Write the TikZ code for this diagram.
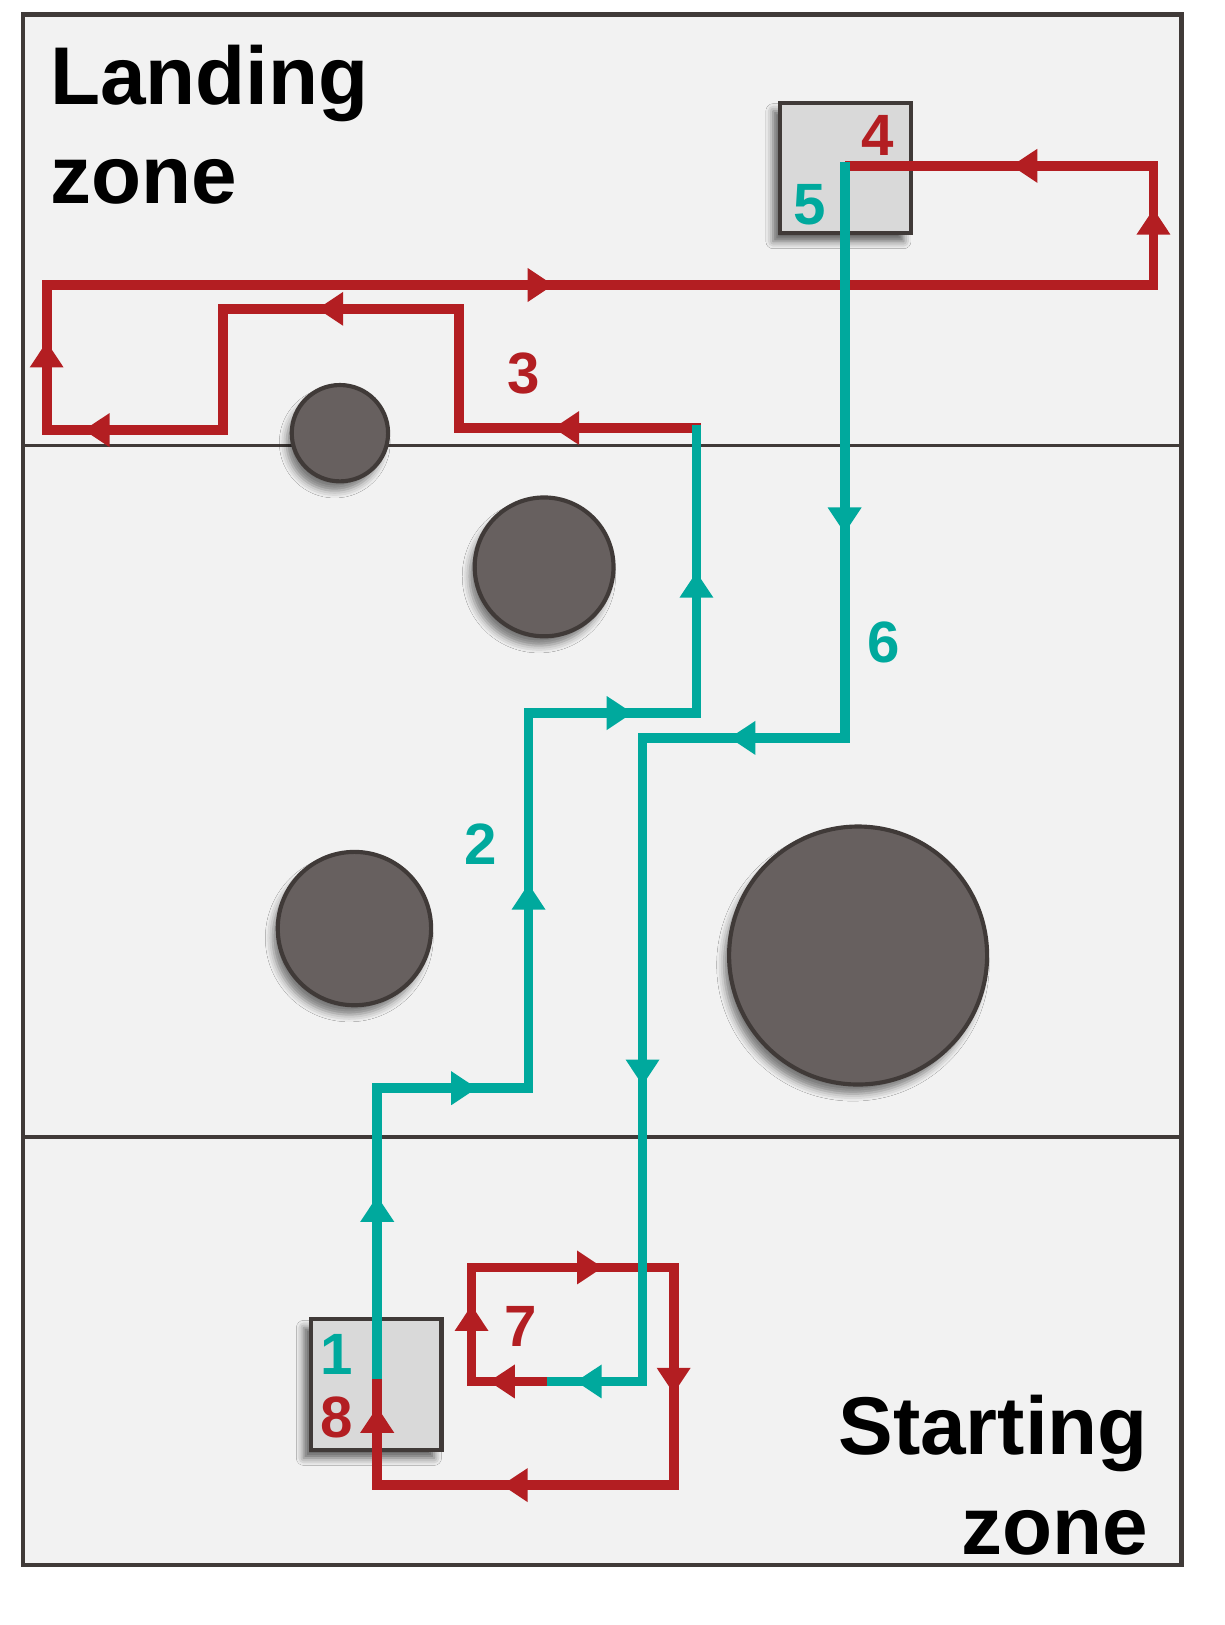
\documentclass[tikz,border=0pt]{standalone}
\usepackage{fontspec}
\setmainfont{Liberation Sans}
\usepackage{tikz}
\usetikzlibrary{positioning,arrows.meta,decorations.markings,shadows.blur}

\definecolor{framegray}{HTML}{403A38}
\definecolor{fieldgray}{HTML}{F2F2F2}
\definecolor{padgray}{HTML}{D9D9D9}
\definecolor{rockgray}{HTML}{67605F}
\definecolor{routered}{HTML}{B31E22}
\definecolor{routeteal}{HTML}{00A99D}

\begin{document}
\begin{tikzpicture}[x=0.02cm, y=-0.02cm,
    pad/.style={draw=framegray, fill=padgray, line width=0.08cm, minimum size=2.52cm, inner sep=0pt,
        blur shadow={shadow xshift=-0.14cm, shadow yshift=-0.16cm, shadow blur radius=0.14cm, shadow opacity=60}},
    rock/.style={circle, draw=framegray, fill=rockgray, line width=0.08cm, inner sep=0pt,
        blur shadow={shadow xshift=-0.1cm, shadow yshift=-0.18cm, shadow blur radius=0.14cm, shadow opacity=50}},
    redroute/.style={routered, line width=0.19cm},
    tealroute/.style={routeteal, line width=0.19cm},
    midtip/.style={postaction={decorate, decoration={markings,
        mark=at position #1 with {\arrow{Triangle[length=0.5cm, width=0.62cm]}}}}},
    zonelabel/.style={font=\bfseries\fontsize{45}{54}\selectfont, inner sep=0pt},
    steplabel/.style={font=\bfseries\fontsize{32}{38}\selectfont, inner sep=0pt}
]
    \useasboundingbox (0,0) rectangle (1182,1568);

    % campo
    \draw[framegray, line width=0.08cm, fill=fieldgray] (22,14) rectangle (1140,1510);
    \coordinate (upL) at (22,430);
    \coordinate (upR) at (1140,430);
    \coordinate (lowL) at (22,1097);
    \coordinate (lowR) at (1140,1097);
    \draw[framegray, line width=0.07cm] (upL) -- (upR);
    \draw[framegray, line width=0.07cm] (lowL) -- (lowR);

    \node[zonelabel, anchor=base west] (landing) at (48,101) {Landing};
    \node[zonelabel, anchor=base west] (landzone) at ([yshift=-1.9cm]landing.base west) {zone};
    \node[zonelabel, anchor=base east] (starting) at (1108,1403) {Starting};
    \node[zonelabel, anchor=base east] (startzone) at ([yshift=-1.94cm]starting.base east) {zone};

    % ostacoli
    \node[rock, minimum size=1.86cm] (rockA) at (328,418) {};
    \node[rock, minimum size=2.68cm] (rockB) at (525,547) {};
    \node[rock, minimum size=2.96cm] (rockC) at (342,896) {};
    \node[rock, minimum size=4.98cm] (rockD) at (828,922) {};

    % piattaforme
    \node[pad] (padTop) at (816,162) {};
    \node[pad] (padBot) at (363,1336) {};

    \coordinate (t2a) at (364,1331);
    \coordinate (t2b) at (364,1050);
    \coordinate (t2c) at (510,1050);
    \coordinate (t2d) at (510,688);
    \coordinate (t2e) at (672,688);
    \coordinate (t2f) at (672,410);

    \coordinate (r3a) at (676,413);
    \coordinate (r3b) at (443,413);
    \coordinate (r3c) at (443,298);
    \coordinate (r3d) at (215,298);
    \coordinate (r3e) at (215,415);
    \coordinate (r3f) at (45,415);
    \coordinate (r3g) at (45,275);
    \coordinate (r3h) at (1113,275);
    \coordinate (r3i) at (1113,160);
    \coordinate (r3j) at (815,160);

    \coordinate (t6a) at (815,156);
    \coordinate (t6b) at (815,712);
    \coordinate (t6c) at (620,712);
    \coordinate (t6d) at (620,1333);
    \coordinate (t6e) at (528,1333);

    \coordinate (r7a) at (528,1333);
    \coordinate (r7b) at (455,1333);
    \coordinate (r7c) at (455,1223);
    \coordinate (r7d) at (650,1223);
    \coordinate (r7e) at (650,1433);
    \coordinate (r7f) at (364,1433);
    \coordinate (r7g) at (364,1331);

    % percorso rosso
    \draw[redroute] (r3a) -- (r3b) -- (r3c) -- (r3d) -- (r3e) -- (r3f) -- (r3g) -- (r3h) -- (r3i) -- (r3j);
    \path[redroute, midtip=0.61] (r3a) -- (r3b);
    \path[redroute, midtip=0.60] (r3c) -- (r3d);
    \path[redroute, midtip=0.79] (r3e) -- (r3f);
    \path[redroute, midtip=0.61] (r3f) -- (r3g);
    \path[redroute, midtip=0.458] (r3g) -- (r3h);
    \path[redroute, midtip=0.64] (r3h) -- (r3i);
    \path[redroute, midtip=0.46] (r3i) -- (r3j);

    \draw[redroute] (r7a) -- (r7b) -- (r7c) -- (r7d) -- (r7e) -- (r7f) -- (r7g);
    \path[redroute, midtip=0.77] (r7a) -- (r7b);
    \path[redroute, midtip=0.67] (r7b) -- (r7c);
    \path[redroute, midtip=0.65] (r7c) -- (r7d);
    \path[redroute, midtip=0.58] (r7d) -- (r7e);
    \path[redroute, midtip=0.58] (r7e) -- (r7f);
    \path[redroute, midtip=0.74] (r7f) -- (r7g);

    % percorso verde
    \draw[tealroute] (t2a) -- (t2b) -- (t2c) -- (t2d) -- (t2e) -- (t2f);
    \path[tealroute, midtip=0.63] (t2a) -- (t2b);
    \path[tealroute, midtip=0.66] (t2b) -- (t2c);
    \path[tealroute, midtip=0.545] (t2c) -- (t2d);
    \path[tealroute, midtip=0.62] (t2d) -- (t2e);
    \path[tealroute, midtip=0.49] (t2e) -- (t2f);

    \draw[tealroute] (t6a) -- (t6b) -- (t6c) -- (t6d) -- (t6e);
    \path[tealroute, midtip=0.645] (t6a) -- (t6b);
    \path[tealroute, midtip=0.57] (t6b) -- (t6c);
    \path[tealroute, midtip=0.54] (t6c) -- (t6d);
    \path[tealroute, midtip=0.70] (t6d) -- (t6e);

    % numeri
    \node[steplabel, routeteal] (one) at (325,1307) {1};
    \node[steplabel, routered, below=0.42cm of one] (eight) {8};
    \node[steplabel, routeteal] (two) at (464,815) {2};
    \node[steplabel, routered] (three) at (505,360) {3};
    \node[steplabel, routered] (four) at (847,131) {4};
    \node[steplabel, routeteal] (five) at (781,198) {5};
    \node[steplabel, routeteal] (six) at (853,620) {6};
    \node[steplabel, routered] (seven) at (502,1280) {7};
\end{tikzpicture}
\end{document}
